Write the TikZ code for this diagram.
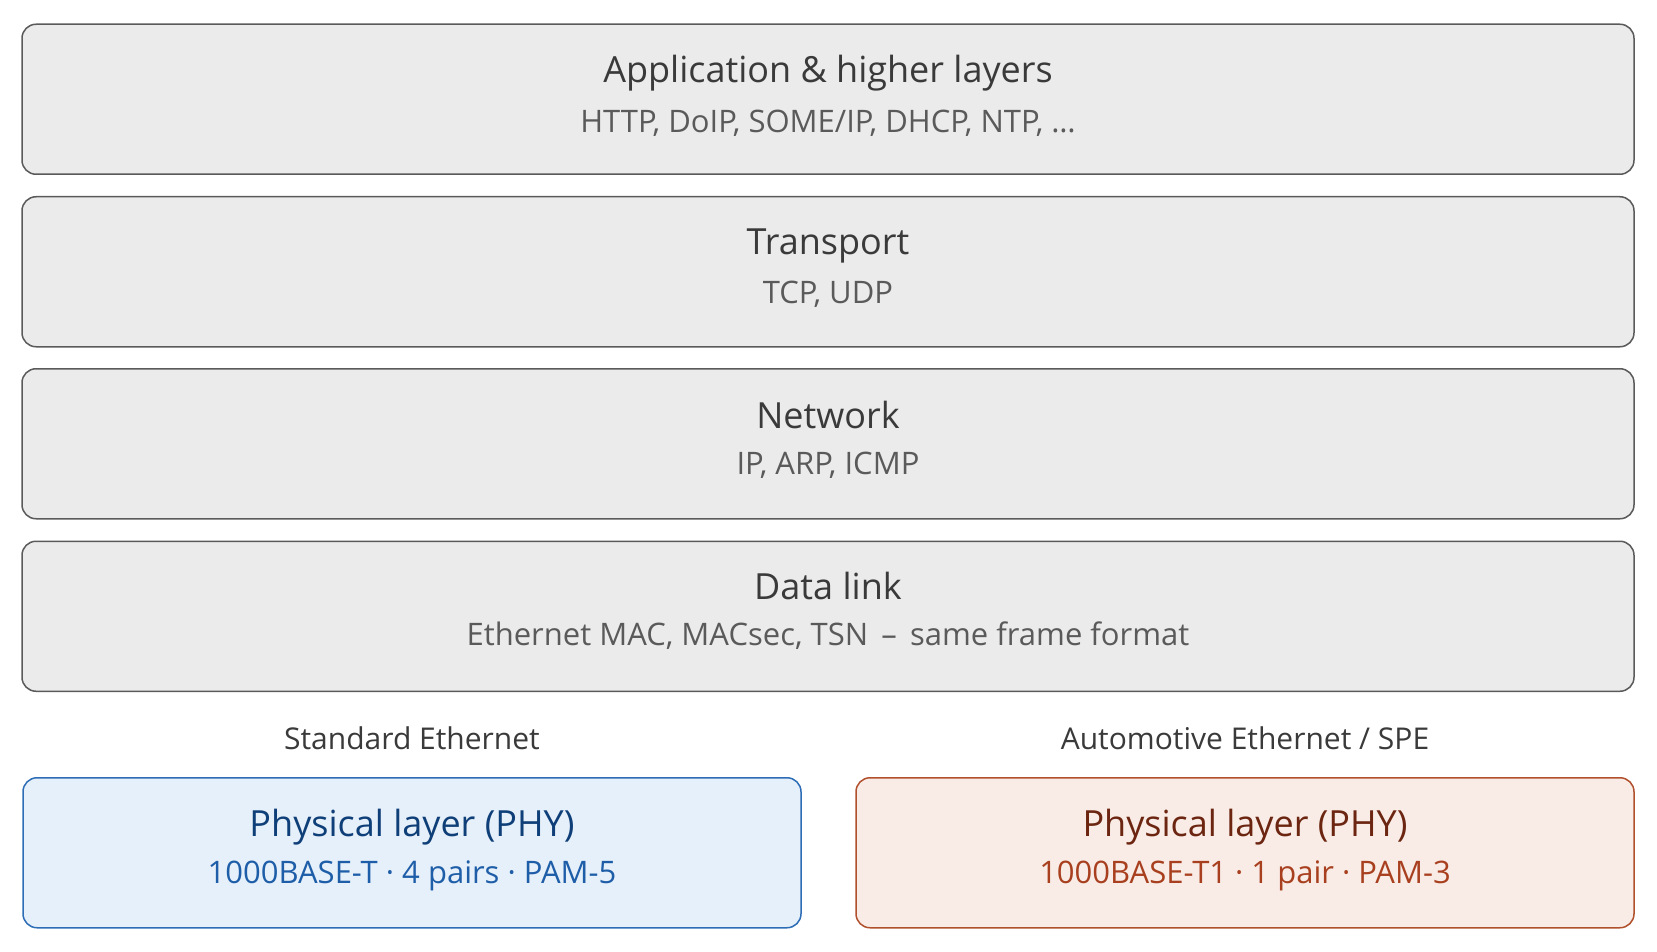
\documentclass[tikz,border=0pt]{standalone}
\usepackage{fontspec}
\setmainfont{Open Sans}
\definecolor{layerfill}{HTML}{EBEBEB}
\definecolor{layerdraw}{HTML}{5A5A5A}
\definecolor{titlecol}{HTML}{3A3A3A}
\definecolor{subcol}{HTML}{5A5A5A}
\definecolor{bluefill}{HTML}{E6F0FA}
\definecolor{bluedraw}{HTML}{2C6DB5}
\definecolor{bluetitle}{HTML}{0F3F78}
\definecolor{bluesub}{HTML}{1E5EA8}
\definecolor{redfill}{HTML}{F9ECE6}
\definecolor{reddraw}{HTML}{B0502D}
\definecolor{redtitle}{HTML}{6B2510}
\definecolor{redsub}{HTML}{A8401F}
\begin{document}
\begin{tikzpicture}[x=1pt,y=-1pt,
  box/.style={line width=1.5pt, rounded corners=14pt, inner sep=0pt, anchor=north, minimum height=150pt},
  layer/.style={box, draw=layerdraw, fill=layerfill, minimum width=1612pt},
  phyblue/.style={box, draw=bluedraw, fill=bluefill, minimum width=778pt},
  phyred/.style={box, draw=reddraw, fill=redfill, minimum width=778pt},
  ttl/.style={anchor=base, inner sep=0pt, text=titlecol, font=\fontsize{36}{42}\selectfont},
  sub/.style={anchor=base, inner sep=0pt, text=subcol, font=\fontsize{31}{36}\selectfont},
  lbl/.style={anchor=base, inner sep=0pt, text=titlecol, font=\fontsize{30}{36}\selectfont}]
\useasboundingbox (0,0) rectangle (1657,952);
% layers
\node[layer] (app) at (828,23.5) {};
\node[layer] (trn) at (828,196) {};
\node[layer] (net) at (828,368) {};
\node[layer] (dl)  at (828,540.5) {};
\node[ttl] (appT) at (828,83) {Application \& higher layers};
\node[sub] (appS) at (828,133) {HTTP, DoIP, SOME/IP, DHCP, NTP, \dots};
\node[ttl] (trnT) at (828,254.5) {Transport};
\node[sub] (trnS) at (828,303) {TCP, UDP};
\node[ttl] (netT) at (828,428) {Network};
\node[sub] (netS) at (828,474) {IP, ARP, ICMP};
\node[ttl] (dlT) at (828,599.5) {Data link};
\node[sub] (dlS) at (828,645) {Ethernet MAC, MACsec, TSN \,--\, same frame format};
% PHY
\node[lbl] (stdL) at (412,749) {Standard Ethernet};
\node[lbl] (autL) at (1245,749) {Automotive Ethernet / SPE};
\node[phyblue] (phyA) at (412,777) {};
\node[phyred] (phyB) at (1245,777) {};
\node[ttl, text=bluetitle] (phyAT) at (412,836.5) {Physical layer (PHY)};
\node[sub, text=bluesub] (phyAS) at (412,883) {1000BASE-T · 4 pairs · PAM-5};
\node[ttl, text=redtitle] (phyBT) at (1245,836.5) {Physical layer (PHY)};
\node[sub, text=redsub] (phyBS) at (1245,883) {1000BASE-T1 · 1 pair · PAM-3};
\end{tikzpicture}
\end{document}
